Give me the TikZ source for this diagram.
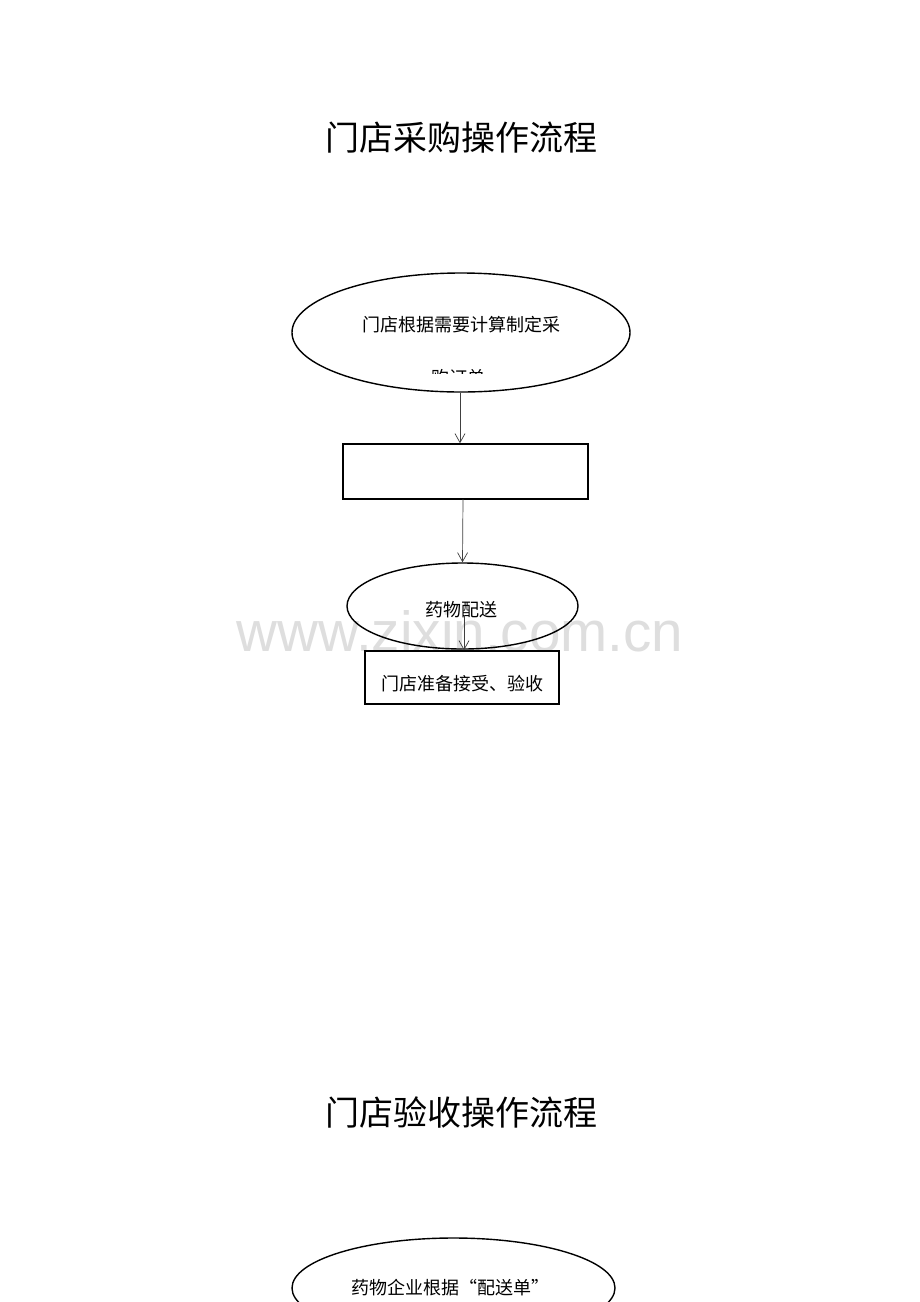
\documentclass[tikz,border=0pt]{standalone}
\usepackage{fontspec}
\newfontfamily\cjk{Noto Sans CJK SC}
\newfontfamily\wmfont{Liberation Sans}
\usetikzlibrary{shapes.geometric,arrows.meta}
\begin{document}
\begin{tikzpicture}[x=1pt,y=-1pt,
  shapeline/.style={draw=black,line width=1.4pt},
  oval/.style={shapeline,ellipse,inner sep=0pt},
  boxnode/.style={shapeline,rectangle,inner sep=0pt},
  flowarrow/.style={draw=black!75,line width=0.7pt,-{Straight Barb[length=9pt,width=10pt,line width=0.7pt]}},
  txt/.style={font=\cjk\fontsize{18}{18}\selectfont,inner sep=0pt,anchor=center},
  title/.style={font=\cjk\fontsize{34}{34}\selectfont,inner sep=0pt,anchor=center}]
\useasboundingbox (0,0) rectangle (920,1302);
\clip (0,0) rectangle (920,1302);
\fill[white] (0,0) rectangle (920,1302);
% watermark
\node[font=\wmfont\fontsize{56.6}{56.6}\selectfont,text=black!13,inner sep=0pt,anchor=base] (wm) at (460,651) {www.zixin.com.cn};
% title 1
\node[title] (t1) at (461,138) {门店采购操作流程};
% ellipse 1
\node[oval,minimum width=338pt,minimum height=119pt] (e1) at (461,332.5) {};
\node[txt] (e1a) at (461,325) {门店根据需要计算制定采};
\begin{scope}
\clip (300,360) rectangle (620,373.5);
\node[txt] (e1b) at (458,378) {购订单};
\end{scope}
% rectangle 2
\node[boxnode,minimum width=245pt,minimum height=55pt] (r2) at (465.5,471.5) {};
% ellipse 3
\node[oval,minimum width=231pt,minimum height=86pt] (e3) at (462.5,606) {};
\node[txt] (e3a) at (461,610) {药物配送};
% rectangle 4
\node[boxnode,minimum width=194pt,minimum height=53pt] (r4) at (462,677.5) {};
\node[txt] (r4a) at (462,684) {门店准备接受、验收};
% arrows
\draw[flowarrow] (e1.south) ++(-1,0) coordinate (a1s) -- (a1s |- r2.north);
\draw[flowarrow] (463,499) coordinate (a2s) -- (e3.north);
\coordinate (a3s) at (464,615);
\draw[flowarrow] (a3s) -- (a3s |- r4.north);
% title 2
\node[title] (t2) at (461,1112) {门店验收操作流程};
% ellipse 5
\node[oval,minimum width=323pt,minimum height=100pt] (e5) at (453.5,1288) {};
\node[txt] (e5a) at (450,1288) {药物企业根据“配送单”};
\end{tikzpicture}
\end{document}
